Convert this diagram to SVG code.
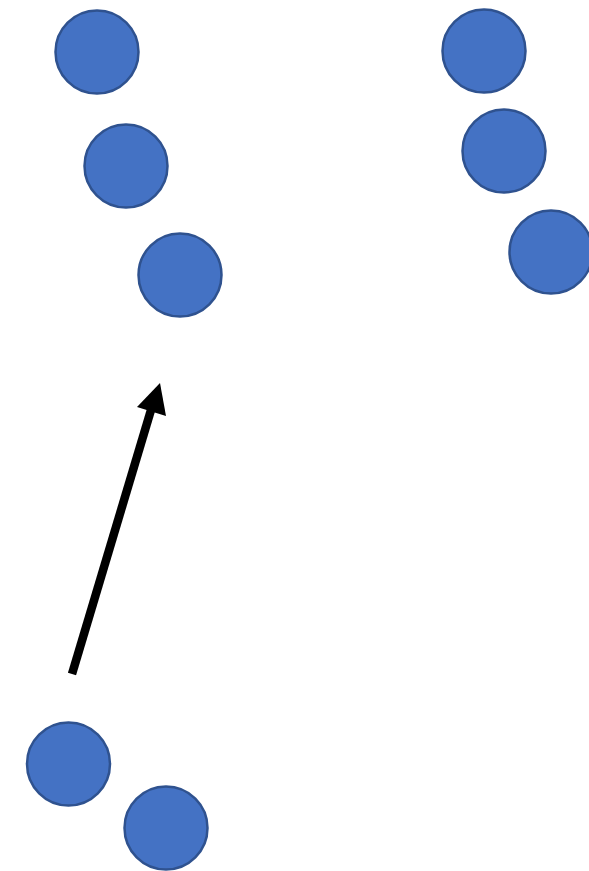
<svg xmlns="http://www.w3.org/2000/svg" width="589" height="871" viewBox="0 0 589 871">
<style>
.n{fill:#4472C4;stroke:#2F528F;stroke-width:2.5}
.c{stroke:#000;stroke-width:8.5;fill:none}
</style>
<rect width="589" height="871" fill="#fff"/>
<g id="n1"><circle class="n" cx="97" cy="52" r="41.5"/></g>
<g id="n2"><circle class="n" cx="126" cy="166" r="41.5"/></g>
<g id="n3"><circle class="n" cx="180" cy="275" r="41.5"/></g>
<g id="n4"><circle class="n" cx="484" cy="51" r="41.5"/></g>
<g id="n5"><circle class="n" cx="504" cy="151" r="41.5"/></g>
<g id="n6"><circle class="n" cx="551" cy="252" r="41.5"/></g>
<g id="n7"><circle class="n" cx="68.5" cy="764" r="41.5"/></g>
<g id="n8"><circle class="n" cx="166" cy="828" r="41.5"/></g>
<g id="connectors">
<line class="c" x1="72" y1="674" x2="151" y2="410"/>
<polygon points="160,383 137,407 166,416" fill="#000"/>
</g>
</svg>
